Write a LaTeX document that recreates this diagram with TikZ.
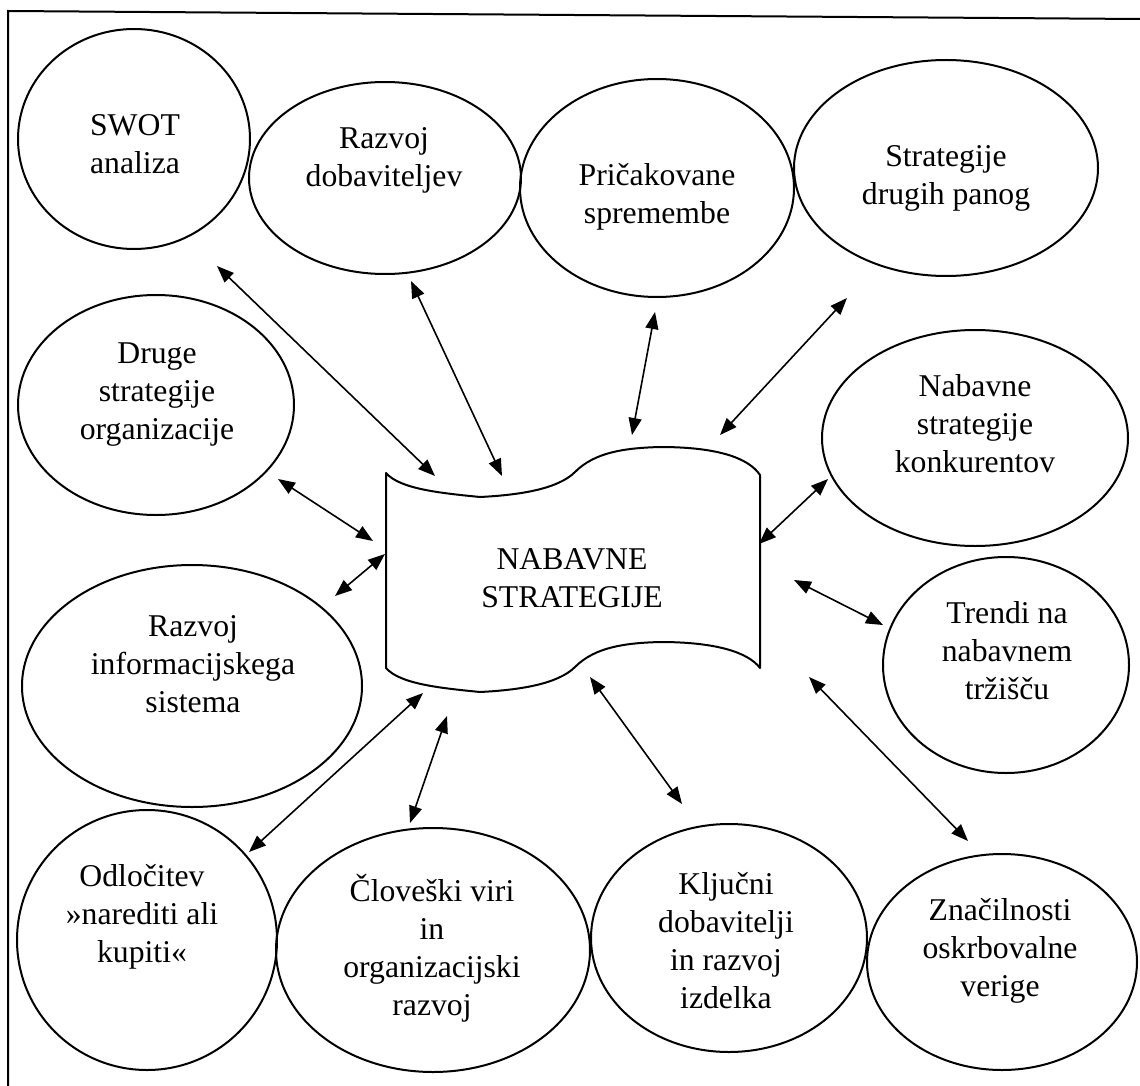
\documentclass[tikz,border=0pt]{standalone}
\usepackage{fontspec}
\setmainfont{Liberation Serif}
\usetikzlibrary{arrows.meta,shapes.geometric}
\begin{document}
\begin{tikzpicture}[x=1pt,y=-1pt,
  ell/.style={draw, ellipse, line width=2pt, inner sep=0pt},
  txt/.style={align=center, inner sep=0pt, font=\fontsize{31.7}{38}\selectfont},
  arr/.style={line width=1.6pt, {Triangle[length=17pt,width=13pt]}-{Triangle[length=17pt,width=13pt]}},
  frame/.style={line width=2pt}]
\useasboundingbox (0,0) rectangle (1140,1086);
% frame (top and left lines)
\coordinate (fTR) at (1140,19);
\coordinate (fTL) at (8,11);
\coordinate (fBL) at (8,1086);
\draw[frame] (fTR) -- (fTL) -- (fBL);
% ellipses
\node[ell, minimum width=232pt, minimum height=220pt] (swot) at (134,139) {};
\node[ell, minimum width=272pt, minimum height=192pt] (rdob) at (385,178) {};
\node[ell, minimum width=274pt, minimum height=218pt] (pric) at (657,188) {};
\node[ell, minimum width=304pt, minimum height=216pt] (strat) at (946,168) {};
\node[ell, minimum width=276pt, minimum height=220pt] (druge) at (156,405) {};
\node[ell, minimum width=306pt, minimum height=216pt] (nkonk) at (975,438) {};
\node[ell, minimum width=340pt, minimum height=242pt] (ris) at (192,686) {};
\node[ell, minimum width=246pt, minimum height=216pt] (trendi) at (1006,665) {};
\node[ell, minimum width=260pt, minimum height=260pt] (odl) at (147,940) {};
\node[ell, minimum width=314pt, minimum height=244pt] (clov) at (433,950) {};
\node[ell, minimum width=276pt, minimum height=228pt] (klju) at (729,938) {};
\node[ell, minimum width=270pt, minimum height=216pt] (znac) at (1002,962) {};
% texts
\node[txt] (swotT) at (135,147) {\strut SWOT\\\strut analiza};
\node[txt] (rdobT) at (384,160) {\strut Razvoj\\\strut dobaviteljev};
\node[txt] (pricT) at (657,197) {\strut Pričakovane\\\strut spremembe};
\node[txt] (stratT) at (946,178) {\strut Strategije\\\strut drugih panog};
\node[txt] (drugeT) at (157,394) {\strut Druge\\\strut strategije\\\strut organizacije};
\node[txt] (nkonkT) at (975,427) {\strut Nabavne\\\strut strategije\\\strut konkurentov};
\node[txt] (risT) at (193,667) {\strut Razvoj\\\strut informacijskega\\\strut sistema};
\node[txt] (trendiT) at (1007,654) {\strut Trendi na\\\strut nabavnem\\\strut tržišču};
\node[txt] (odlT) at (142,917) {\strut Odločitev\\\strut »narediti ali\\\strut kupiti«};
\node[txt] (clovT) at (432,951) {\strut Človeški viri\\\strut in\\\strut organizacijski\\\strut razvoj};
\node[txt] (kljuT) at (726,944) {\strut Ključni\\\strut dobavitelji\\\strut in razvoj\\\strut izdelka};
\node[txt] (znacT) at (1000,951) {\strut Značilnosti\\\strut oskrbovalne\\\strut verige};
% central wavy document shape
\draw[line width=2pt, line join=round]
  (386,473) -- (386,668)
  .. controls (400,684) and (440,688) .. (480,692)
  .. controls (520,690) and (558,684) .. (575,667)
  .. controls (595,647) and (625,643) .. (660,642)
  .. controls (715,642) and (748,652) .. (760,668)
  -- (760,475)
  .. controls (748,457) and (715,447) .. (660,447)
  .. controls (625,448) and (595,452) .. (575,472)
  .. controls (558,489) and (520,495) .. (480,497)
  .. controls (440,493) and (400,489) .. (386,473) -- cycle;
\node[txt] (mid) at (572,581) {\strut NABAVNE\\\strut STRATEGIJE};
% arrow end points
\coordinate (e1a) at (217,266);  \coordinate (e1b) at (435,476);
\coordinate (e2a) at (411,281);  \coordinate (e2b) at (502,476);
\coordinate (e3a) at (655,312);  \coordinate (e3b) at (632,435);
\coordinate (e4a) at (847,298);  \coordinate (e4b) at (720,435);
\coordinate (e5a) at (278,479);  \coordinate (e5b) at (373,541);
\coordinate (e6a) at (335,596);  \coordinate (e6b) at (385,554);
\coordinate (e7a) at (828,479);  \coordinate (e7b) at (759,544);
\coordinate (e8a) at (883,625);  \coordinate (e8b) at (794,580);
\coordinate (e9a) at (968,841);  \coordinate (e9b) at (809,677);
\coordinate (e10a) at (682,804); \coordinate (e10b) at (590,677);
\coordinate (e11a) at (410,823); \coordinate (e11b) at (447,716);
\coordinate (e12a) at (249,852); \coordinate (e12b) at (423,693);
\draw[arr] (e1a) -- (e1b);
\draw[arr] (e2a) -- (e2b);
\draw[arr] (e3a) -- (e3b);
\draw[arr] (e4a) -- (e4b);
\draw[arr] (e5a) -- (e5b);
\draw[arr] (e6a) -- (e6b);
\draw[arr] (e7a) -- (e7b);
\draw[arr] (e8a) -- (e8b);
\draw[arr] (e9a) -- (e9b);
\draw[arr] (e10a) -- (e10b);
\draw[arr] (e11a) -- (e11b);
\draw[arr] (e12a) -- (e12b);
\end{tikzpicture}
\end{document}
